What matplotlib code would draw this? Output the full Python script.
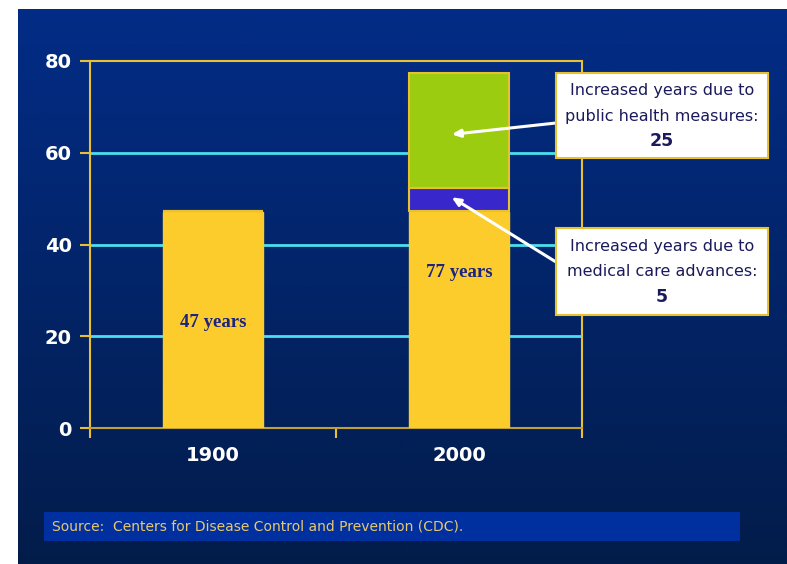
import numpy as np
import matplotlib
matplotlib.use("Agg")
import matplotlib.pyplot as plt

years = ["1900", "2000"]
base_years = [47, 47]
medical_years = [0, 5]
public_health_years = [0, 25]
bar_labels = ["47 years", "77 years"]
y_ticks = [0, 20, 40, 60, 80]

fig = plt.figure(figsize=(7.87, 5.64), dpi=100)
fig.patch.set_facecolor("white")

# gradient background panel
bg = fig.add_axes([18 / 787, 0, 1 - 18 / 787, 555 / 564])
top = np.array([2, 44, 134]) / 255
bot = np.array([2, 28, 74]) / 255
t = np.linspace(0, 1, 256)[:, None]
grad = top * (1 - t[..., None]) + bot * t[..., None]
grad = np.repeat(grad, 2, axis=1)
bg.imshow(grad, aspect="auto", extent=[0, 1, 0, 1])
bg.set_axis_off()

ax = fig.add_axes([90 / 787, 136 / 564, 492 / 787, 367 / 564])
ax.patch.set_alpha(0)

yellow = "#fccc2c"
edge = "#e8c030"
x = np.array([0.5, 1.5])
w = 0.405
ax.bar(x, base_years, w, color=yellow, edgecolor=yellow, linewidth=1, zorder=3)
ax.bar(x, medical_years, w, bottom=np.array(base_years) + 0.4, color="#3828cc",
       edgecolor=edge, linewidth=1.5, zorder=3)
ax.bar(x, public_health_years, w,
       bottom=np.array(base_years) + np.array(medical_years) + 0.4,
       color="#9ccc10", edgecolor=edge, linewidth=1.5, zorder=3)

ax.set_xlim(0, 2)
ax.set_ylim(0, 80)
for g in [20, 40, 60]:
    ax.axhline(g, color="#48e0f0", lw=2, zorder=1)

for s in ["left", "top", "right"]:
    ax.spines[s].set_color(edge)
    ax.spines[s].set_linewidth(1.5)
ax.spines["bottom"].set_color("#c0a030")
ax.spines["bottom"].set_linewidth(1.5)

ax.set_yticks(y_ticks)
ax.set_yticklabels([str(v) for v in y_ticks])
ax.tick_params(axis="y", colors=edge, length=7, width=1.5, direction="out", pad=6)
ax.set_xticks([0, 1, 2])
ax.set_xticklabels([])
ax.tick_params(axis="x", colors=edge, length=7, width=1.5, direction="out")
for lab in ax.get_yticklabels():
    lab.set_color("white")
    lab.set_fontweight("bold")
    lab.set_fontsize(14)
for xi, yr in zip(x, years):
    ax.text(xi, -4, yr, ha="center", va="top", color="white",
            fontsize=14, fontweight="bold")

label_y = [23, 34]
for xi, ly, lab in zip(x, label_y, bar_labels):
    ax.text(xi, ly, lab, ha="center", va="center", color="#1c2480",
            fontsize=13.5, fontweight="bold", family="Liberation Serif", zorder=4)

# annotation boxes
fig.patches.append(matplotlib.patches.Rectangle((556 / 787, (564 - 158) / 564), 212 / 787, 85 / 564,
                   transform=fig.transFigure, fc="white", ec=edge, lw=1.5, zorder=5))
fig.patches.append(matplotlib.patches.Rectangle((556 / 787, (564 - 315) / 564), 212 / 787, 87 / 564,
                   transform=fig.transFigure, fc="white", ec=edge, lw=1.5, zorder=5))
navy = "#1a1a5c"
fig.text(662 / 787, (564 - 90) / 564, "Increased years due to", ha="center", va="center",
         color=navy, fontsize=11.5, zorder=6)
fig.text(662 / 787, (564 - 116) / 564, "public health measures:", ha="center", va="center",
         color=navy, fontsize=11.5, zorder=6)
fig.text(662 / 787, (564 - 141) / 564, "25", ha="center", va="center",
         color=navy, fontsize=12.5, fontweight="bold", zorder=6)
fig.text(662 / 787, (564 - 246) / 564, "Increased years due to", ha="center", va="center",
         color=navy, fontsize=11.5, zorder=6)
fig.text(662 / 787, (564 - 272) / 564, "medical care advances:", ha="center", va="center",
         color=navy, fontsize=11.5, zorder=6)
fig.text(662 / 787, (564 - 297) / 564, "5", ha="center", va="center",
         color=navy, fontsize=12.5, fontweight="bold", zorder=6)

arrow = dict(arrowstyle="-|>,head_length=0.5,head_width=0.22", color="white", lw=2.2,
             shrinkA=0, shrinkB=0)
ax.annotate("", xy=(1.47, 64), xytext=((556 - 90) / 246, (428 - 123) / 4.5875),
            arrowprops=arrow, annotation_clip=False, zorder=4)
ax.annotate("", xy=(1.47, 50.3), xytext=((556 - 90) / 246, (428 - 262) / 4.5875),
            arrowprops=arrow, annotation_clip=False, zorder=4)

# source strip
fig.patches.append(matplotlib.patches.Rectangle((44 / 787, (564 - 541) / 564), 696 / 787, 29 / 564,
                   transform=fig.transFigure, fc="#0030a0", ec="none", zorder=2))
fig.text(52 / 787, (564 - 527) / 564, "Source:  Centers for Disease Control and Prevention (CDC).",
         ha="left", va="center", color="#e8c870", fontsize=10, zorder=3)

fig.savefig("out.png", dpi=100)
